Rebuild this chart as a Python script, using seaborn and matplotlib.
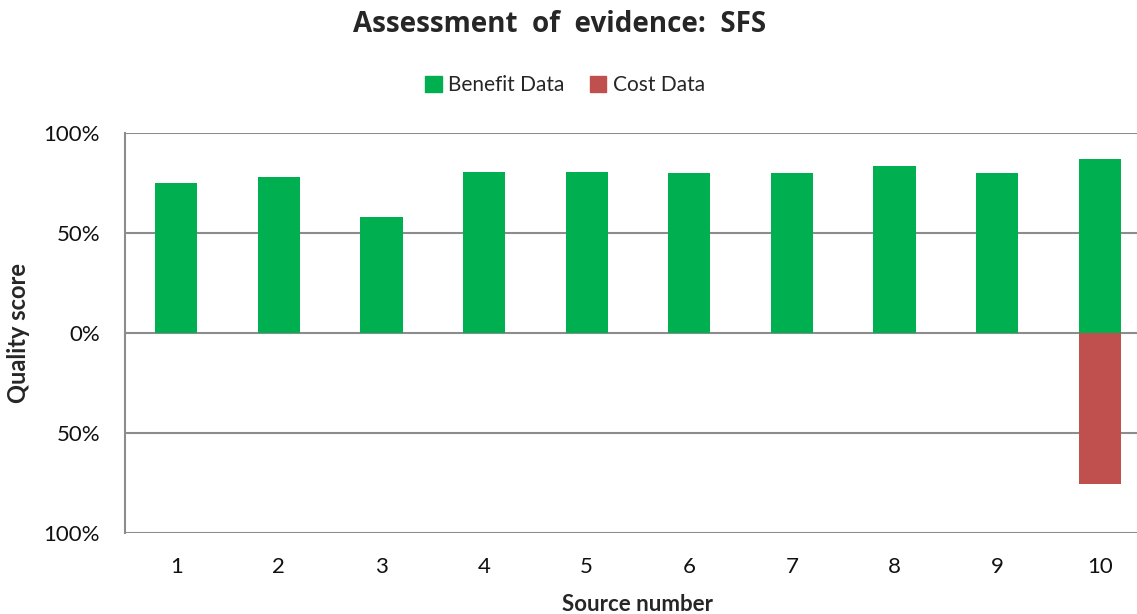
import pandas as pd
import matplotlib.pyplot as plt
import seaborn as sns
from matplotlib.patches import Patch
from matplotlib.ticker import FuncFormatter

# Data (quality score, %)
sources = [str(i) for i in range(1, 11)]
benefit = [75, 78, 58, 80.5, 80.5, 80, 80, 83.5, 80, 87]
cost = [0, 0, 0, 0, 0, 0, 0, 0, 0, 75.5]

GREEN = "#00B050"
RED = "#C0504D"
GRID = "#8C8C8C"

df = pd.concat([
    pd.DataFrame({"source": sources, "value": benefit, "kind": "Benefit Data"}),
    pd.DataFrame({"source": sources, "value": [-c for c in cost], "kind": "Cost Data"}),
])

sns.set_theme(style="white")
plt.rcParams["font.family"] = ["Lato", "DejaVu Sans"]

fig = plt.figure(figsize=(11.37, 6.14), dpi=100)
W, H = 1137, 614
ax = fig.add_axes([125 / W, 1 - 533 / H, (1151 - 125) / W, 400 / H])

sns.barplot(data=df, x="source", y="value", hue="kind", dodge=False,
            palette={"Benefit Data": GREEN, "Cost Data": RED},
            width=0.41, ax=ax, legend=False, saturation=1, linewidth=0)

ax.set_ylim(-100, 100)
ax.set_xlim(-0.5, 9.5)
ax.set_yticks([-100, -50, 0, 50, 100])
ax.yaxis.set_major_formatter(FuncFormatter(lambda v, p: f"{abs(v):.0f}%"))
ax.grid(axis="y", color=GRID, linewidth=1.5)
ax.set_axisbelow(True)
for s in ["top", "right", "bottom"]:
    ax.spines[s].set_visible(False)
ax.spines["left"].set_color(GRID)
ax.spines["left"].set_linewidth(1.5)
ax.tick_params(axis="both", length=0, labelsize=16, colors="#111111")
ax.tick_params(axis="y", pad=18)
ax.tick_params(axis="x", pad=17)

ax.set_xlabel("Source number", fontsize=16, fontweight="bold")
ax.set_ylabel("Quality score", fontsize=17, fontweight="bold")
ax.yaxis.label.set_va("center")
ax.xaxis.set_label_coords((637 - 125) / (1151 - 125), -(594 - 533) / 400)
ax.yaxis.set_label_coords(-(125 - 19) / (1151 - 125), 0.5)

fig.text(560 / W, 1 - 25 / H, "Assessment  of  evidence:  SFS", ha="center", va="center",
         fontsize=20, fontweight="bold", family="Open Sans")

handles = [Patch(color=GREEN, label="Benefit Data"), Patch(color=RED, label="Cost Data")]
fig.legend(handles=handles, loc="center", bbox_to_anchor=(565 / W, 1 - 85 / H), ncol=2,
           frameon=False, fontsize=15, handlelength=0.8, handleheight=0.8,
           handletextpad=0.3, columnspacing=1.2)

fig.savefig("out.png", dpi=100)
